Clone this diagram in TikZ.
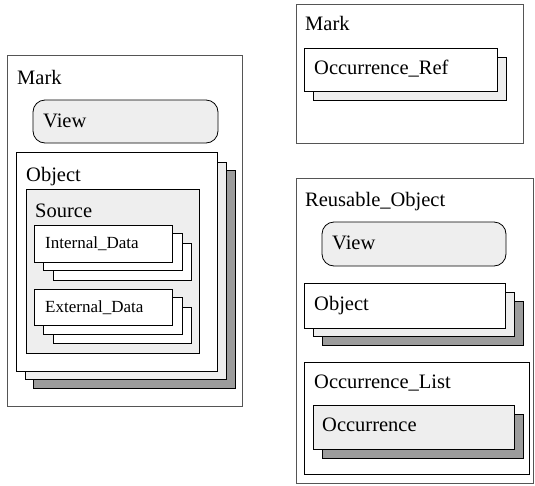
\documentclass[tikz,border=0pt]{standalone}
\usepackage{fontspec}
\setmainfont{Liberation Serif}
\definecolor{lightfill}{HTML}{EEEEEE}
\definecolor{darkfill}{HTML}{9C9C9C}
\definecolor{outerline}{HTML}{555555}
\tikzset{
  outerbox/.style={draw=outerline, line width=0.9pt, fill=white},
  whitebox/.style={draw=black, line width=0.8pt, fill=white},
  lightbox/.style={draw=black, line width=0.8pt, fill=lightfill},
  darkbox/.style={draw=black, line width=0.8pt, fill=darkfill},
  viewbox/.style={draw=black, line width=0.8pt, fill=lightfill, rounded corners=12pt},
  lbl/.style={anchor=base west, inner sep=0pt, font=\fontsize{20.5}{24}\selectfont},
  smalllbl/.style={anchor=base west, inner sep=0pt, font=\fontsize{17}{20}\selectfont}
}
\begin{document}
\begin{tikzpicture}[x=1pt,y=-1pt]
\useasboundingbox (0,0) rectangle (535,485);
% ---------- left: Mark ----------
\draw[outerbox] (7,55) rectangle (242,406);
\node[lbl] (markL) at (17,84) {Mark};
\draw[viewbox] (33,100) rectangle (218,143);
\node[lbl] (viewL) at (43,127) {View};
% Object stack
\draw[darkbox] (33,170) rectangle (235,388);
\draw[lightbox] (25,162) rectangle (226,379);
\draw[whitebox] (16,152) rectangle (217,371);
\node[lbl] (objL) at (26,181) {Object};
% Source
\draw[lightbox] (26,189) rectangle (199,353);
\node[lbl] (srcL) at (35,217) {Source};
% Internal_Data stack
\draw[whitebox] (53,243) rectangle (191,280);
\draw[whitebox] (43,233) rectangle (182,270);
\draw[whitebox] (34,225) rectangle (172,262);
\node[smalllbl] (intL) at (45,248) {Internal\_Data};
% External_Data stack
\draw[whitebox] (53,307) rectangle (191,343);
\draw[whitebox] (43,297) rectangle (182,334);
\draw[whitebox] (34,289) rectangle (172,325);
\node[smalllbl] (extL) at (45,312) {External\_Data};
% ---------- right top: Mark ----------
\draw[outerbox] (296,4) rectangle (523,143);
\node[lbl] (markR) at (305,30) {Mark};
\draw[lightbox] (313,57) rectangle (506,100);
\draw[whitebox] (304,48) rectangle (497,91);
\node[lbl] (occref) at (314,74) {Occurrence\_Ref};
% ---------- right bottom: Reusable_Object ----------
\draw[outerbox] (296,178) rectangle (533.5,483);
\node[lbl] (reuse) at (305,206) {Reusable\_Object};
\draw[viewbox] (322,222) rectangle (506,266);
\node[lbl] (viewR) at (332,249) {View};
\draw[darkbox] (322,301) rectangle (523,345);
\draw[lightbox] (313,292) rectangle (514,336);
\draw[whitebox] (304,283) rectangle (505,328);
\node[lbl] (objR) at (314,310) {Object};
\draw[whitebox] (304,362) rectangle (529,474);
\node[lbl] (occlist) at (314,388) {Occurrence\_List};
\draw[darkbox] (322,414) rectangle (523,458);
\draw[lightbox] (313,405) rectangle (514,449);
\node[lbl] (occ) at (322,431) {Occurrence};
\end{tikzpicture}
\end{document}
